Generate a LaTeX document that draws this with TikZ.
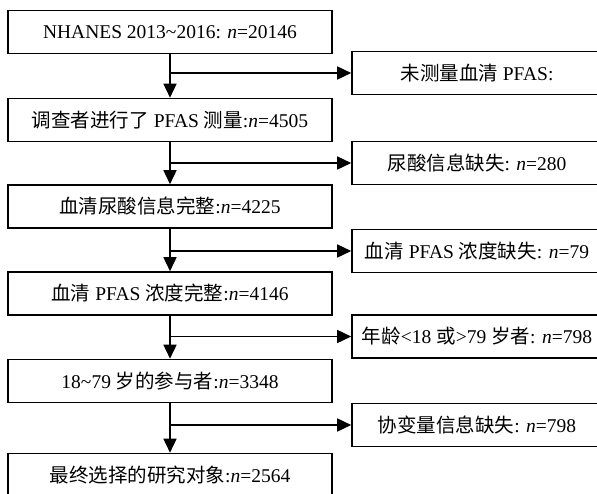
\documentclass[tikz,border=0pt]{standalone}
\usepackage{fontspec}
\setmainfont{Liberation Serif}
\newfontfamily\cjk{Noto Sans CJK SC}
\usetikzlibrary{arrows.meta}
\newcommand{\zh}[1]{{\cjk #1}}
\newcommand{\nn}{\textit{n}}
\begin{document}
\begin{tikzpicture}[x=1pt,y=-1pt,
  font=\fontsize{19.5}{23}\selectfont,
  mainbox/.style={draw,line width=1.6pt,inner sep=0pt,minimum width=324pt,minimum height=43pt},
  sidebox/.style={draw,line width=1.6pt,inner sep=0pt,minimum width=250pt,minimum height=43pt},
  flow/.style={line width=1.6pt,-{Triangle[length=14pt,width=13pt]}},
  branch/.style={line width=1.6pt}]
\useasboundingbox (0,0) rectangle (597,493);
\clip (0,0) rectangle (597,493);

% main column
\node[mainbox] (b1) at (170,32)  {NHANES 2013\textasciitilde 2016: \nn=20146};
\node[mainbox] (b2) at (170,120) {\zh{调查者进行了} PFAS \zh{测量}:\nn=4505};
\node[mainbox] (b3) at (170,206.5) {\zh{血清尿酸信息完整}:\nn=4225};
\node[mainbox] (b4) at (170,293.5) {\zh{血清} PFAS \zh{浓度完整}:\nn=4146};
\node[mainbox] (b5) at (170,381) {18\textasciitilde 79 \zh{岁的参与者}:\nn=3348};
\node[mainbox] (b6) at (170,475) {\zh{最终选择的研究对象}:\nn=2564};

% exclusion boxes
\node[sidebox] (r1) at (477,73)  {\zh{未测量血清} PFAS:};
\node[sidebox] (r2) at (477,163) {\zh{尿酸信息缺失}: \nn=280};
\node[sidebox] (r3) at (477,251) {\zh{血清} PFAS \zh{浓度缺失}: \nn=79};
\node[sidebox] (r4) at (477,336.5) {\zh{年龄}<18 \zh{或}>79 \zh{岁者}: \nn=798};
\node[sidebox] (r5) at (477,425) {\zh{协变量信息缺失}: \nn=798};

% junction points on the main line
\foreach \i in {1,...,5} {
  \coordinate (j\i) at (b1.south |- r\i.west);
}

% downward flow
\draw[flow] (b1.south) -- (b2.north);
\draw[flow] (b2.south) -- (b3.north);
\draw[flow] (b3.south) -- (b4.north);
\draw[flow] (b4.south) -- (b5.north);
\draw[flow] (b5.south) -- (b6.north);

% exclusions
\foreach \i in {1,...,5} {
  \draw[flow] (j\i) -- (r\i.west);
}
\end{tikzpicture}
\end{document}
